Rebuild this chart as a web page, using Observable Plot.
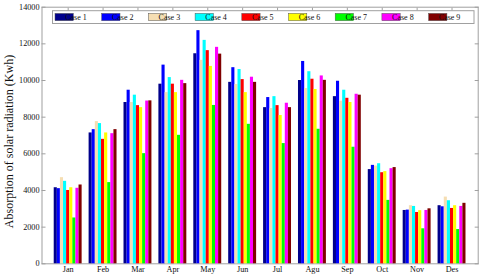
<!DOCTYPE html>
<html>
<head>
<meta charset="utf-8">
<script src="https://cdn.jsdelivr.net/npm/d3@7"></script>
<script src="https://cdn.jsdelivr.net/npm/@observablehq/plot@0.6"></script>
<style>
  html, body { margin: 0; padding: 0; background: #fff; }
  #chart { width: 480px; height: 277px; }
</style>
</head>
<body>
<div id="chart"></div>
<script>
const months = ["Jan","Feb","Mar","Apr","May","Jun","Jul","Agu","Sep","Oct","Nov","Des"];
const cases = ["Case 1","Case 2","Case 3","Case 4","Case 5","Case 6","Case 7","Case 8","Case 9"];
const colors = ["#00008b","#0000ff","#f5deb3","#00ffff","#ff0000","#ffff00","#00ff00","#ff00ff","#800000"];
const yTicks = [0,2000,4000,6000,8000,10000,12000,14000];

const case1 = [4150, 7140, 8800, 9800, 11460, 9900, 8520, 10000, 9120, 5140, 2910, 3170];
const case2 = [4100, 7320, 9470, 10840, 12720, 10700, 9070, 11040, 9960, 5370, 2930, 3110];
const case3 = [4700, 7760, 8800, 9340, 11100, 9780, 8470, 9560, 8870, 5330, 3170, 3640];
const case4 = [4500, 7650, 9200, 10160, 12190, 10600, 9120, 10480, 9470, 5460, 3130, 3440];
const case5 = [4000, 6790, 8630, 9800, 11630, 10050, 8630, 10070, 9030, 4970, 2800, 3020];
const case6 = [4150, 7140, 8520, 9340, 10770, 9340, 8090, 9510, 8800, 5030, 2900, 3170];
const case7 = [2500, 4430, 6010, 7010, 8640, 7610, 6560, 7340, 6360, 3460, 1910, 1870];
const case8 = [4120, 7100, 8880, 10010, 11810, 10180, 8760, 10250, 9250, 5190, 2910, 3130];
const case9 = [4300, 7320, 8890, 9830, 11440, 9900, 8520, 10010, 9200, 5250, 3000, 3300];

const series = [case1, case2, case3, case4, case5, case6, case7, case8, case9];
const groupWidth = 0.8;
const barW = groupWidth / cases.length;

const table = [];
months.forEach((m, i) => {
  series.forEach((vals, j) => {
    const x1 = (i + 1) - groupWidth / 2 + j * barW;
    table.push({month: m, idx: i + 1, case: cases[j], value: vals[i], x1, x2: x1 + barW});
  });
});

const monthIdx = months.map((_, i) => i + 1);
const axisGray = "#a0a0a0";

function legendMark(index, scales, values, dims) {
  const g = d3.create("svg:g").attr("font-family", "Liberation Serif, Times New Roman, serif").attr("font-size", 8);
  const left = dims.marginLeft + 11;
  const top = dims.marginTop + 4;
  const step = 46.7;
  const boxW = 421.5, boxH = 12.8;
  g.append("rect").attr("x", left).attr("y", top).attr("width", boxW).attr("height", boxH)
    .attr("fill", "#fff").attr("stroke", axisGray).attr("stroke-width", 1);
  cases.forEach((c, k) => {
    const x = left + 2.5 + k * step;
    g.append("rect").attr("x", x).attr("y", top + 2.7).attr("width", 18.3).attr("height", 7.3)
      .attr("fill", scales.color(c)).attr("stroke", "#555").attr("stroke-width", 0.5);
    g.append("text").attr("x", x + 21).attr("y", top + boxH / 2).attr("dy", "0.35em")
      .attr("fill", "#111").text(c);
  });
  return g.node();
}

const chart = Plot.plot({
  width: 480,
  height: 277,
  marginLeft: 41.5,
  marginRight: 2.3,
  marginTop: 6.7,
  marginBottom: 13.7,
  style: {fontFamily: "Liberation Serif, Times New Roman, serif", fontSize: "8px", background: "#fff", color: "#111"},
  x: {domain: [0.25, 12.75], axis: null},
  y: {domain: [0, 14000], axis: null},
  color: {domain: cases, range: colors},
  marks: [
    Plot.frame({stroke: axisGray}),
    Plot.axisY({anchor: "left", ticks: yTicks, tickSize: -4, tickPadding: 6.5, tickFormat: d => String(d), stroke: axisGray, fill: "#111", label: null, fontSize: 8.2}),
    Plot.axisY({anchor: "right", ticks: yTicks, tickSize: -4, tickFormat: () => "", stroke: axisGray, label: null}),
    Plot.axisX({anchor: "top", ticks: monthIdx, tickSize: -3, tickFormat: () => "", stroke: axisGray, label: null}),
    Plot.axisX({anchor: "bottom", ticks: monthIdx, tickSize: -3, tickPadding: 5.5, tickFormat: i => months[i - 1], stroke: axisGray, fill: "#111", label: null, fontSize: 8.2}),
    Plot.rectY(table, {x1: "x1", x2: "x2", y: "value", fill: "case", inset: 0}),
    Plot.text(["Absorption of solar radiation (Kwh)"], {frameAnchor: "left", textAnchor: "middle", rotate: -90, dx: -33, dy: 6, fontSize: 12, fill: "#111"}),
    legendMark
  ]
});

document.getElementById("chart").append(chart);
</script>
</body>
</html>
